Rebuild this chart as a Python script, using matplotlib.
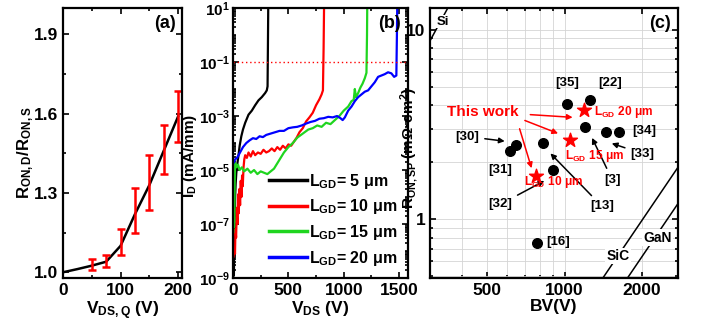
import numpy as np
import matplotlib
matplotlib.use("Agg")
import matplotlib.pyplot as plt
from matplotlib.ticker import AutoMinorLocator, FixedLocator, LogLocator, NullFormatter, FuncFormatter

plt.rcParams['font.family'] = ['Liberation Sans', 'DejaVu Sans']
plt.rcParams['font.weight'] = 'bold'
plt.rcParams['axes.labelweight'] = 'bold'
plt.rcParams['mathtext.fontset'] = 'custom'
plt.rcParams['mathtext.rm'] = 'Liberation Sans:bold'
plt.rcParams['mathtext.it'] = 'Liberation Sans:bold'
plt.rcParams['mathtext.bf'] = 'Liberation Sans:bold'
plt.rcParams['axes.linewidth'] = 1.6

# ---- (a) dynamic Ron ratio vs quiescent drain bias
line_v = [0, 25, 50, 75, 100, 125, 150, 175, 200]
line_r = [1.0, 1.012, 1.025, 1.04, 1.10, 1.22, 1.33, 1.46, 1.59]
err_v = [50, 75, 100, 125, 150, 175, 200]
err_mid = [1.03, 1.042, 1.115, 1.235, 1.34, 1.466, 1.59]
err_half = [0.022, 0.023, 0.05, 0.085, 0.105, 0.093, 0.097]

# ---- (b) off-state I-V, log10 of ID (mA/mm)
v5 = [8, 10, 12, 14, 16, 18, 20, 24, 30, 38, 48, 60, 75, 90, 110, 140, 170, 200, 230, 260, 290, 305, 312, 315, 318]
i5 = [-8.9, -8.2, -7.8, -7.1, -6.8, -6.2, -5.9, -5.5, -5.1, -4.8, -4.5, -4.1, -3.75, -3.5, -3.25, -2.95, -2.8, -2.6,
      -2.42, -2.3, -2.15, -2.05, -1.9, -0.5, 1.0]
v10 = [5, 12, 18, 22, 28, 34, 40, 46, 52, 58, 64, 70, 76, 82, 88, 95, 102, 110, 125, 140, 160, 180, 200, 225, 250,
       275, 300, 325, 350, 375, 400, 425, 450, 475, 500, 525, 550, 575, 600, 630, 660, 690, 720, 750, 780, 800, 812,
       818, 822]
i10 = [-8.2, -7.9, -8.1, -7.2, -7.5, -6.4, -7.0, -5.9, -6.6, -5.7, -6.3, -5.4, -6.0, -5.2, -5.6, -4.9, -4.6, -4.45,
       -4.55, -4.35, -4.5, -4.3, -4.45, -4.35, -4.4, -4.25, -4.35, -4.3, -4.2, -4.3, -4.15, -4.25, -4.1, -4.2, -4.05,
       -4.1, -3.95, -3.8, -3.6, -3.45, -3.2, -3.05, -2.88, -2.6, -2.38, -2.2, -2.05, -0.5, 1.0]
v15 = [3, 6, 9, 12, 15, 18, 22, 30, 45, 60, 80, 100, 130, 160, 190, 220, 250, 280, 310, 340, 370, 400, 430, 460,
       500, 540, 580, 630, 680, 720, 760, 800, 840, 880, 920, 960, 1000, 1040, 1070, 1090, 1100, 1110, 1130, 1150,
       1170, 1190, 1205, 1210, 1212]
i15 = [-7.3, -6.8, -7.1, -6.9, -5.5, -4.8, -4.75, -4.9, -4.8, -5.0, -4.9, -5.05, -4.95, -5.1, -5.0, -5.15, -5.05,
       -5.1, -5.15, -5.05, -4.95, -4.75, -4.55, -4.35, -4.15, -4.0, -3.8, -3.65, -3.5, -3.45, -3.35, -3.4, -3.25,
       -3.3, -3.15, -3.0, -2.8, -2.65, -2.45, -2.4, -2.0, -2.3, -2.15, -1.95, -1.8, -1.6, -1.4, 0.0, 1.0]
v20 = [2, 10, 20, 35, 50, 70, 90, 120, 150, 180, 210, 240, 270, 300, 340, 380, 420, 460, 500, 540, 580, 620, 660,
       700, 740, 780, 820, 860, 900, 940, 970, 990, 1010, 1040, 1070, 1100, 1130, 1160, 1190, 1220, 1250, 1280, 1310,
       1340, 1370, 1400, 1430, 1455, 1475, 1480, 1483]
i20 = [-4.75, -4.7, -4.6, -4.55, -4.45, -4.3, -4.15, -4.0, -3.9, -3.82, -3.85, -3.75, -3.78, -3.7, -3.65, -3.6,
       -3.55, -3.55, -3.45, -3.42, -3.4, -3.35, -3.28, -3.22, -3.18, -3.1, -3.08, -3.03, -3.05, -3.0, -3.08, -3.15,
       -3.05, -2.8, -2.65, -2.45, -2.3, -2.2, -2.1, -2.05, -1.9, -1.75, -1.55, -1.5, -1.45, -1.38, -1.42, -1.55,
       -1.5, 0.0, 1.0]
b_labels = ['5', '10', '15', '20']
b_colors = ['black', 'red', '#1fd51f', 'blue']

# ---- (c) benchmark Ron,sp vs BV
ref_names = ['[35]', '[22]', '[3]', '[33]', '[34]', '[30]', '[31]', '[13]', '[32]', '[16]']
ref_bv = [1018, 1260, 1200, 1451, 1633, 650, 616, 822, 900, 780]
ref_ron = [4.03, 4.23, 3.06, 2.87, 2.89, 2.47, 2.29, 2.53, 1.83, 0.75]
work_lgd = ['10', '15', '20']
work_bv = [774, 1053, 1194]
work_ron = [1.69, 2.61, 3.76]
# material limits, Ron = k * (BV/1000)^n  (mOhm cm2)
lim_names = ['Si', 'SiC', 'GaN']
lim_k = [177.0, 0.247, 0.159]
lim_n = [2.5, 2.0, 2.0]

fig = plt.figure(figsize=(7.01, 3.26), dpi=100)
ax_a = fig.add_axes([0.0899, 0.147, 0.170, 0.8285])
ax_b = fig.add_axes([0.3324, 0.147, 0.2496, 0.8285])
ax_c = fig.add_axes([0.6134, 0.147, 0.3538, 0.8285])

tick_fs = 12.5
for ax in (ax_a, ax_b, ax_c):
    ax.tick_params(which='both', direction='in', top=True, right=True, labelsize=tick_fs, width=1.2)
    ax.tick_params(which='major', length=4)
    ax.tick_params(which='minor', length=2.2)
ax_b.tick_params(axis='y', pad=2.5, labelsize=11)

# y labels placed in figure pixels as in the reference
W, H = 701.0, 326.0
ylab_fs = 12

# (a)
ax_a.plot(line_v, line_r, color='black', lw=1.8)
ax_a.errorbar(err_v, err_mid, yerr=err_half, fmt='none', ecolor='red', elinewidth=1.8, capsize=3, capthick=1.8)
ax_a.set_xlim(0, 207)
ax_a.set_ylim(0.978, 2.0)
ax_a.set_xticks([0, 100, 200])
ax_a.set_yticks([1.0, 1.3, 1.6, 1.9])
ax_a.xaxis.set_minor_locator(AutoMinorLocator(2))
ax_a.yaxis.set_minor_locator(AutoMinorLocator(2))
ax_a.set_xlabel(r'V$_{DS,Q}$ (V)', fontsize=12.5, labelpad=1)
fig.text(26 / W, 1 - 153 / H, r'R$_{ON,D}$/R$_{ON,S}$', rotation=90, ha='center', va='center', fontsize=ylab_fs)
ax_a.text(0.95, 0.975, '(a)', transform=ax_a.transAxes, ha='right', va='top', fontsize=13)

# (b)
for v, logi, lab, col in zip([v5, v10, v15, v20], [i5, i10, i15, i20], b_labels, b_colors):
    ax_b.plot(v, 10.0 ** np.array(logi), color=col, lw=1.6, label=r'L$_{GD}$= ' + lab + ' μm')
ax_b.axhline(0.1, color='red', ls=(0, (1, 2)), lw=1.0)
ax_b.set_yscale('log')
ax_b.set_xlim(0, 1580)
ax_b.set_ylim(1e-9, 1e1)
ax_b.set_xticks([0, 500, 1000, 1500])
ax_b.xaxis.set_minor_locator(AutoMinorLocator(2))
ax_b.yaxis.set_major_locator(FixedLocator([1e-9, 1e-7, 1e-5, 1e-3, 1e-1, 1e1]))
ax_b.yaxis.set_minor_locator(LogLocator(base=10, subs=np.arange(1, 10), numticks=30))
ax_b.yaxis.set_minor_formatter(NullFormatter())
ax_b.yaxis.set_major_formatter(FuncFormatter(lambda y, p: r'$10^{%d}$' % round(np.log10(y))))
ax_b.set_xlabel(r'V$_{DS}$ (V)', fontsize=12.5, labelpad=1)
fig.text(190 / W, 1 - 156 / H, r'I$_{D}$ (mA/mm)', rotation=90, ha='center', va='center', fontsize=11)
ax_b.text(0.96, 0.975, '(b)', transform=ax_b.transAxes, ha='right', va='top', fontsize=13)
leg = ax_b.legend(loc='lower right', bbox_to_anchor=(1.0, 0.0), frameon=False, fontsize=11.5,
                  handlelength=2.4, handletextpad=0.15, labelspacing=0.42, borderaxespad=0.25)
for h in leg.get_lines():
    h.set_linewidth(2.5)

# (c)
ax_c.set_xscale('log')
ax_c.set_yscale('log')
ax_c.set_xlim(300, 2760)
ax_c.set_ylim(0.49, 13)
ax_c.grid(True, which='both', color='#d4d4d4', lw=0.6)
ax_c.set_axisbelow(True)
bv_span = np.array([300.0, 3000.0])
for name, k, n in zip(lim_names, lim_k, lim_n):
    ax_c.plot(bv_span, k * (bv_span / 1000.0) ** n, color='black', lw=1.1)
ax_c.scatter(ref_bv, ref_ron, s=48, color='black', zorder=3)
ax_c.scatter(work_bv, work_ron, s=110, marker='*', color='red', zorder=4)
ax_c.xaxis.set_major_locator(FixedLocator([500, 1000, 2000]))
ax_c.xaxis.set_major_formatter(FuncFormatter(lambda x, p: '%d' % x))
ax_c.xaxis.set_minor_locator(LogLocator(base=10, subs=np.arange(2, 10), numticks=30))
ax_c.xaxis.set_minor_formatter(NullFormatter())
ax_c.yaxis.set_major_locator(FixedLocator([1, 10]))
ax_c.yaxis.set_major_formatter(FuncFormatter(lambda y, p: '%d' % y))
ax_c.yaxis.set_minor_locator(LogLocator(base=10, subs=np.arange(2, 10), numticks=30))
ax_c.yaxis.set_minor_formatter(NullFormatter())
ax_c.set_xlabel('BV(V)', fontsize=12.5, labelpad=1)
fig.text(409 / W, 1 - 148 / H, r'R$_{ON,SP}$ (mΩ·cm$^{2}$)', rotation=90, ha='center', va='center',
         fontsize=11)
ax_c.text(0.97, 0.975, '(c)', transform=ax_c.transAxes, ha='right', va='top', fontsize=13)

lab_fs = 9.5
arrow_k = dict(arrowstyle='-|>', color='black', lw=1.1, mutation_scale=8)
ax_c.text(1021, 5.26, '[35]', ha='center', va='center', fontsize=lab_fs)
ax_c.text(1503, 5.2, '[22]', ha='center', va='center', fontsize=lab_fs)
ax_c.text(2042, 2.92, '[34]', ha='center', va='center', fontsize=lab_fs)
ax_c.annotate('[33]', xy=(1490, 2.54), xytext=(2006, 2.22), ha='center', va='center', fontsize=lab_fs,
              arrowprops=arrow_k)
ax_c.annotate('[3]', xy=(1265, 2.77), xytext=(1531, 1.62), ha='center', va='center', fontsize=lab_fs,
              arrowprops=arrow_k)
ax_c.annotate('[13]', xy=(866, 2.28), xytext=(1398, 1.17), ha='center', va='center', fontsize=lab_fs,
              arrowprops=arrow_k)
ax_c.annotate('[30]', xy=(600, 2.57), xytext=(419, 2.73), ha='center', va='center', fontsize=lab_fs,
              arrowprops=arrow_k)
ax_c.text(563, 1.83, '[31]', ha='center', va='center', fontsize=lab_fs)
ax_c.annotate('[32]', xy=(853, 1.62), xytext=(563, 1.2), ha='center', va='center', fontsize=lab_fs,
              arrowprops=arrow_k)
ax_c.text(850, 0.757, '[16]', ha='left', va='center', fontsize=lab_fs)

arrow_r = dict(arrowstyle='-|>', color='red', lw=1.1, mutation_scale=8)
ax_c.text(483, 3.66, 'This work', color='red', ha='center', va='center', fontsize=11)
ax_c.annotate('', xy=(1102, 3.44), xytext=(718, 3.57), arrowprops=arrow_r)
ax_c.annotate('', xy=(966, 2.8), xytext=(685, 3.36), arrowprops=arrow_r)
ax_c.annotate('', xy=(750, 1.80), xytext=(664, 3.1), arrowprops=arrow_r)
work_text_pos = [(693, 1.57), (1003, 2.15), (1301, 3.7)]
for lgd, (tx, ty) in zip(work_lgd, work_text_pos):
    ax_c.text(tx, ty, r'L$_{GD}$ ' + lgd + ' μm', color='red', ha='left', va='center', fontsize=8.6)

ax_c.text(318, 11.0, 'Si', ha='left', va='center', fontsize=9.5,
          bbox=dict(facecolor='white', edgecolor='none', pad=0.5))
ax_c.text(1611, 0.64, 'SiC', ha='center', va='center', fontsize=10,
          bbox=dict(facecolor='white', edgecolor='none', pad=1))
ax_c.text(2304, 0.80, 'GaN', ha='center', va='center', fontsize=10,
          bbox=dict(facecolor='white', edgecolor='none', pad=1))

fig.savefig('out.png', dpi=100)
